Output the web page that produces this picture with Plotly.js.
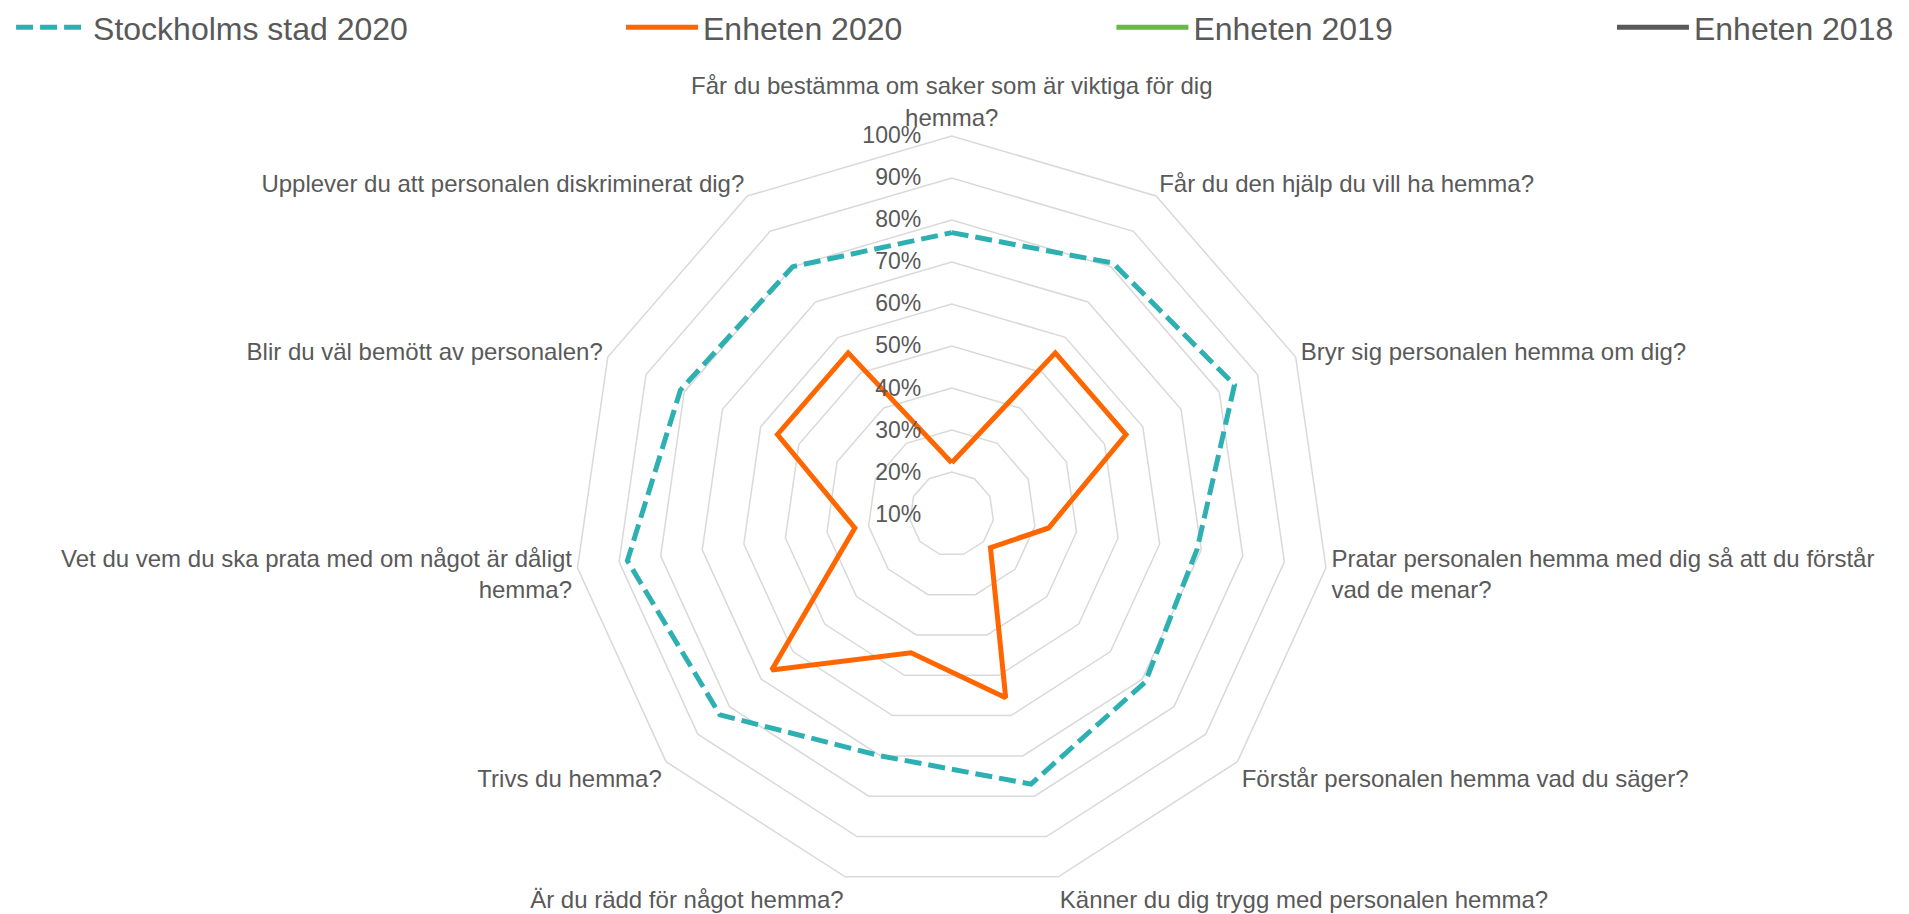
<!DOCTYPE html>
<html>
<head>
<meta charset="utf-8">
<script src="https://cdn.plot.ly/plotly-3.0.1.min.js"></script>
<style>
html,body{margin:0;padding:0;background:#fff;}
#chart{width:1909px;height:914px;}
</style>
</head>
<body>
<div id="chart"></div>
<script>
// Categories (questions), clockwise from top
const categories = [
  "Får du bestämma om saker som är viktiga för dig hemma?",
  "Får du den hjälp du vill ha hemma?",
  "Bryr sig personalen hemma om dig?",
  "Pratar personalen hemma med dig så att du förstår vad de menar?",
  "Förstår personalen hemma vad du säger?",
  "Känner du dig trygg med personalen hemma?",
  "Är du rädd för något hemma?",
  "Trivs du hemma?",
  "Vet du vem du ska prata med om något är dåligt hemma?",
  "Blir du väl bemött av personalen?",
  "Upplever du att personalen diskriminerat dig?"
];
// Displayed tick labels (with line breaks as in the original)
const tickLabels = [
  "Får du bestämma om saker som är viktiga för dig<br>hemma?",
  "Får du den hjälp du vill ha hemma?",
  "Bryr sig personalen hemma om dig?",
  "Pratar personalen hemma med dig så att du förstår<br>vad de menar?",
  "Förstår personalen hemma vad du säger?",
  "Känner du dig trygg med personalen hemma?",
  "Är du rädd för något hemma?",
  "Trivs du hemma?",
  "Vet du vem du ska prata med om något är dåligt<br>hemma?",
  "Blir du väl bemött av personalen?",
  "Upplever du att personalen diskriminerat dig?"
];
// Series values (percent)
const stockholm2020 = [77, 81, 84, 69, 71, 77, 70, 83, 88, 81, 80];
const enheten2020   = [22.2, 55.6, 55.6, 33.3, 22.2, 55.6, 44.4, 66.7, 33.3, 55.6, 55.6];
const enheten2019   = [null, null, null, null, null, null, null, null, null, null, null];
const enheten2018   = [null, null, null, null, null, null, null, null, null, null, null];
const seriesNames = ["Stockholms stad 2020", "Enheten 2020", "Enheten 2019", "Enheten 2018"];

const FONT = "Liberation Sans, Arial, Helvetica, sans-serif";
const TXT = "#595959";

function closed(arr){ return arr.concat([arr[0]]); }

const traces = [
  {type:"scatterpolar", mode:"lines", name:seriesNames[0], legend:"legend",
   r:closed(stockholm2020), theta:closed(categories),
   line:{color:"#2EB0B2", width:5, dash:"17px,7px"}, hoverinfo:"skip"},
  {type:"scatterpolar", mode:"lines", name:seriesNames[1], legend:"legend2",
   r:closed(enheten2020), theta:closed(categories),
   line:{color:"#FF6600", width:5}, hoverinfo:"skip"},
  {type:"scatterpolar", mode:"lines", name:seriesNames[2], legend:"legend3",
   r:closed(enheten2019), theta:closed(categories),
   line:{color:"#6AB74A", width:5}, hoverinfo:"skip"},
  {type:"scatterpolar", mode:"lines", name:seriesNames[3], legend:"legend4",
   r:closed(enheten2018), theta:closed(categories),
   line:{color:"#595959", width:5}, hoverinfo:"skip"}
];

function leg(x){
  return {orientation:"h", x:x, xanchor:"left", y:1.008, yanchor:"top",
          font:{family:FONT, size:32, color:TXT}, itemwidth:72,
          bgcolor:"rgba(0,0,0,0)", borderwidth:0, itemclick:false, itemdoubleclick:false};
}

const layout = {
  width:1909, height:914,
  margin:{l:0, r:0, t:0, b:0},
  paper_bgcolor:"#ffffff",
  font:{family:FONT, color:TXT},
  showlegend:true,
  legend:leg(0.0058),
  legend2:leg(0.3253),
  legend3:leg(0.5822),
  legend4:leg(0.8444),
  polar:{
    domain:{x:[0.2990, 0.6981], y:[0.0241, 0.8578]},
    bgcolor:"#ffffff",
    gridshape:"linear",
    radialaxis:{
      range:[10, 100], tick0:10, dtick:10, ticksuffix:"%",
      angle:90, side:"counterclockwise", tickangle:90,
      showline:false, ticks:"outside", ticklen:22, tickcolor:"rgba(0,0,0,0)",
      showgrid:true, gridcolor:"#D9D9D9", gridwidth:1.5,
      tickfont:{family:FONT, size:23, color:TXT}
    },
    angularaxis:{
      type:"category", categoryorder:"array", categoryarray:categories,
      tickvals:categories, ticktext:tickLabels,
      direction:"clockwise", rotation:90,
      showgrid:false, showline:true, linecolor:"#D9D9D9", linewidth:1.5,
      ticks:"", tickfont:{family:FONT, size:24, color:TXT}
    }
  }
};

Plotly.newPlot("chart", traces, layout, {staticPlot:true, displayModeBar:false});
</script>
</body>
</html>
